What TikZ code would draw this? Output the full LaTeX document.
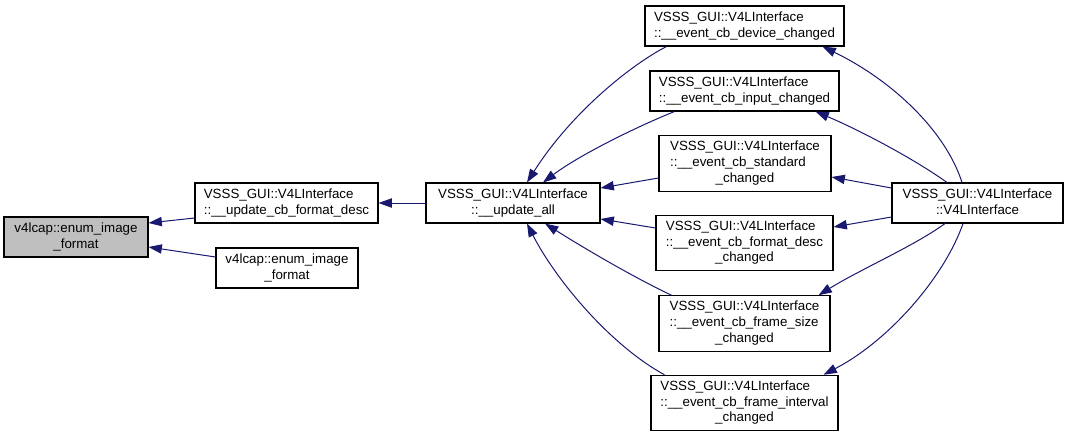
\documentclass[tikz,border=0pt]{standalone}
\usepackage{fontspec}
\setmainfont{Liberation Sans}
\usepackage{tikz}
\usetikzlibrary{arrows.meta, calc}
\definecolor{edgeblue}{HTML}{191970}
\definecolor{fngray}{HTML}{BFBFBF}
\newcommand{\fnlabel}[2]{\begin{tabular}{@{}l@{}}#1\\\multicolumn{1}{@{}c@{}}{#2}\end{tabular}}

\begin{document}
\begin{tikzpicture}[
  x=0.75pt, y=-0.75pt,
  fn/.style={rectangle, draw=black, line width=0.8pt, fill=white,
             inner sep=0pt, minimum height=30pt,
             font=\fontsize{10}{11.8}\selectfont},
  fnthree/.style={fn, minimum height=41.6pt},
  cur/.style={fill=fngray},
  arr/.style={-{Triangle[length=10pt,width=7pt]}, edgeblue, line width=0.75pt},
]
  \useasboundingbox (0,0) rectangle (1068,437);

  %% ── left part ───────────────────────────────────────────────────────────
  \node[fn, cur, minimum width=108pt]    (enum)  at (76, 237)   {\fnlabel{v4lcap::enum\_image}{\_format}};
  \node[fn, minimum width=137.25pt]      (ufmt)  at (286.5, 203) {\fnlabel{VSSS\_GUI::V4LInterface}{::\_\_update\_cb\_format\_desc}};
  \node[fn, minimum width=106.5pt]       (enum2) at (287, 268)   {\fnlabel{v4lcap::enum\_image}{\_format}};
  \node[fn, minimum width=130.5pt]       (uall)  at (513, 203)   {\fnlabel{VSSS\_GUI::V4LInterface}{::\_\_update\_all}};

  %% ── event callbacks (x=744) ─────────────────────────────────────────────
  \node[fn, minimum width=149.25pt]      (dev)   at (744.5, 26)  {\fnlabel{VSSS\_GUI::V4LInterface}{::\_\_event\_cb\_device\_changed}};
  \node[fn, minimum width=141.75pt]      (inp)   at (744.5, 91)  {\fnlabel{VSSS\_GUI::V4LInterface}{::\_\_event\_cb\_input\_changed}};
  \node[fnthree, minimum width=129pt]    (std)   at (745, 163.5) {\fnlabel{VSSS\_GUI::V4LInterface\\::\_\_event\_cb\_standard}{\_changed}};
  \node[fnthree, minimum width=132.75pt] (fdesc) at (744.5, 243) {\fnlabel{VSSS\_GUI::V4LInterface\\::\_\_event\_cb\_format\_desc}{\_changed}};
  \node[fnthree, minimum width=128.25pt] (fsize) at (744.5, 323.5) {\fnlabel{VSSS\_GUI::V4LInterface\\::\_\_event\_cb\_frame\_size}{\_changed}};
  \node[fnthree, minimum width=140.25pt] (fint)  at (744.5, 403) {\fnlabel{VSSS\_GUI::V4LInterface\\::\_\_event\_cb\_frame\_interval}{\_changed}};

  %% ── constructor ─────────────────────────────────────────────────────────
  \node[fn, minimum width=128.25pt]      (ctor)  at (977.5, 203) {\fnlabel{VSSS\_GUI::V4LInterface}{::V4LInterface}};

  %% ── calls into the left part ────────────────────────────────────────────
  \draw[arr] ($(ufmt.west)+(0,15)$) -- ($(enum.east)+(0,-14)$);
  \draw[arr] ($(enum2.west)+(0,-11)$) -- ($(enum.east)+(0,10)$);
  \draw[arr] (uall.west) -- (ufmt.east);

  %% ── callbacks -> update_all ─────────────────────────────────────────────
  \draw[arr] ($(dev.south west)+(22,0)$) .. controls +(-37,19) and +(43,-68) .. ($(uall.north)+(14,0)$);
  \draw[arr] ($(inp.south west)+(25,0)$) .. controls +(-35,14) and +(37,-28) .. ($(uall.north)+(30,0)$);
  \draw[arr] ($(std.west)+(0,14.5)$) -- ($(uall.east)+(0,-15)$);
  \draw[arr] ($(fdesc.west)+(0,-15)$) -- ($(uall.east)+(0,16)$);
  \draw[arr] ($(fsize.north west)+(13,0)$) .. controls +(-42,-20) and +(35,22) .. ($(uall.south)+(32,0)$);
  \draw[arr] ($(fint.north west)+(14,0)$) .. controls +(-55,-30) and +(28,55) .. ($(uall.south)+(14,0)$);

  %% ── constructor -> callbacks ────────────────────────────────────────────
  \draw[arr] ($(ctor.north)+(-15.5,0)$) .. controls +(-17,-53) and +(68,33) .. ($(dev.south east)+(-22,0)$);
  \draw[arr] ($(ctor.north)+(-30.5,0)$) .. controls +(-32,-23) and +(45,19) .. ($(inp.south east)+(-24,0)$);
  \draw[arr] ($(ctor.west)+(0,-15)$) -- ($(std.east)+(0,13.5)$);
  \draw[arr] ($(ctor.west)+(0,14)$) -- ($(fdesc.east)+(0,-16)$);
  \draw[arr] ($(ctor.south)+(-32.5,0)$) .. controls +(-30,22) and +(42,-26) .. ($(fsize.north east)+(-12,0)$);
  \draw[arr] ($(ctor.south)+(-14.5,0)$) .. controls +(-18,52) and +(67,-35) .. ($(fint.north east)+(-15,0)$);

\end{tikzpicture}
\end{document}
